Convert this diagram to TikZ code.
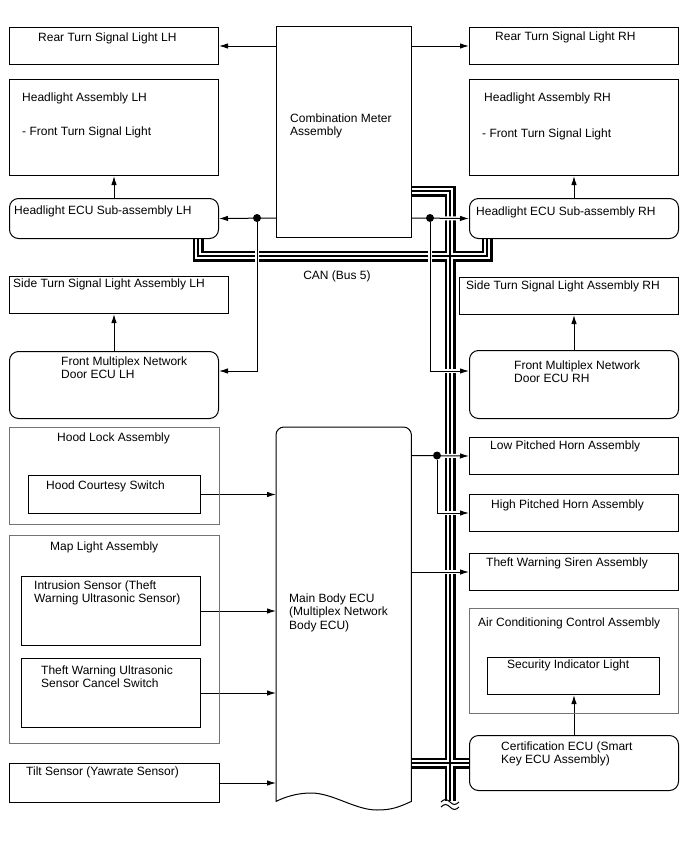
\documentclass[tikz,border=0pt]{standalone}
\usepackage{fontspec}
\setmainfont{Liberation Sans}
\usetikzlibrary{arrows.meta}
\pgfdeclarelayer{wires}
\pgfsetlayers{wires,main}
\tikzset{
  unit/.style={draw, fill=white, line width=1pt, inner sep=0, anchor=north west},
  ecu/.style={unit, rounded corners=9pt},
  assy/.style={draw=black!55, line width=0.9pt, inner sep=0, anchor=north west},
  lbl/.style={inner sep=0, anchor=north west, align=left, font=\fontsize{12}{13.5}\selectfont},
  sig/.style={line width=1pt, -{Latex[length=9pt,width=5.5pt]}, preaction={draw=white, line width=4pt, -}},
  tap/.style={circle, fill, inner sep=0, minimum size=8pt},
}
\begin{document}
\begin{tikzpicture}[x=1pt, y=-1pt]
  \useasboundingbox (0,0) rectangle (688,852);
  \node[unit, minimum width=209pt, minimum height=37pt] (rearL) at (9,27) {};
  \node[unit, minimum width=209pt, minimum height=37pt] (rearR) at (469,27) {};
  \node[unit, minimum width=135pt, minimum height=211pt] (cma) at (276,26) {};
  \node[unit, minimum width=209pt, minimum height=96pt] (haL) at (9,79) {};
  \node[unit, minimum width=209pt, minimum height=96pt] (haR) at (469,79) {};
  \node[ecu, minimum width=209pt, minimum height=40pt] (hecuL) at (9,198) {};
  \node[ecu, minimum width=209pt, minimum height=40pt] (hecuR) at (469,198) {};
  \node[unit, minimum width=219pt, minimum height=37pt] (stL) at (9,276) {};
  \node[unit, minimum width=219pt, minimum height=37pt] (stR) at (459,277) {};
  \node[ecu, minimum width=209pt, minimum height=67pt] (fmL) at (9,351) {};
  \node[ecu, minimum width=209pt, minimum height=68pt] (fmR) at (469,350) {};
  \node[assy, minimum width=210pt, minimum height=97pt] (hood) at (9,427) {};
  \node[unit, minimum width=172pt, minimum height=38pt] (hcs) at (28,475) {};
  \node[unit, minimum width=209pt, minimum height=37pt] (low) at (469,437) {};
  \node[unit, minimum width=209pt, minimum height=37pt] (high) at (469,494) {};
  \node[unit, minimum width=209pt, minimum height=37pt] (siren) at (469,553) {};
  \node[assy, minimum width=210pt, minimum height=208pt] (map) at (9,535) {};
  \node[unit, minimum width=179pt, minimum height=69pt] (ins) at (21,576) {};
  \node[unit, minimum width=179pt, minimum height=69pt] (cnl) at (21,658) {};
  \node[unit, minimum width=210pt, minimum height=39pt] (tilt) at (9,763) {};
  \node[assy, minimum width=209pt, minimum height=105pt] (ac) at (469,608) {};
  \node[unit, minimum width=172pt, minimum height=37pt] (sil) at (487,657) {};
  \node[ecu, minimum width=209pt, minimum height=55pt] (cert) at (469,735) {};
  \node[inner sep=0, anchor=north west, minimum width=135pt, minimum height=374pt] (mbe) at (276,427) {};
  \filldraw[fill=white, line width=1pt] (mbe.south west) -- ([yshift=-8pt]mbe.north west)
    arc[start angle=180, end angle=90, radius=8pt] -- ([xshift=-8pt]mbe.north east)
    arc[start angle=90, end angle=0, radius=8pt] -- (mbe.south east)
    .. controls (399,807) and (392,810) .. (377,810)
    .. controls (355,810) and (333,793) .. (311,793)
    .. controls (297,793) and (285,797) .. cycle;
  \node[lbl] (rearL-t) at (38,32.5) {Rear Turn Signal Light LH};
  \node[lbl] (rearR-t) at (495,31.5) {Rear Turn Signal Light RH};
  \node[lbl] (cma-t) at (290,113.5) {Combination Meter\\Assembly};
  \node[lbl] (haL-t) at (22,92.5) {Headlight Assembly LH};
  \node[lbl] (haL-s) at (22,126.5) {- Front Turn Signal Light};
  \node[lbl] (haR-t) at (484,92.5) {Headlight Assembly RH};
  \node[lbl] (haR-s) at (482,128.5) {- Front Turn Signal Light};
  \node[lbl] (hecuL-t) at (14,205.5) {Headlight ECU Sub-assembly LH};
  \node[lbl] (hecuR-t) at (476,206.5) {Headlight ECU Sub-assembly RH};
  \node[lbl, anchor=center] (can-t) at (337,276) {CAN (Bus 5)};
  \node[lbl] (stL-t) at (13,278.5) {Side Turn Signal Light Assembly LH};
  \node[lbl] (stR-t) at (466,280.5) {Side Turn Signal Light Assembly RH};
  \node[lbl] (fmL-t) at (61,356.5) {Front Multiplex Network\\Door ECU LH};
  \node[lbl] (fmR-t) at (514,360.5) {Front Multiplex Network\\Door ECU RH};
  \node[lbl] (hood-t) at (57,432.5) {Hood Lock Assembly};
  \node[lbl] (hcs-t) at (46,480.5) {Hood Courtesy Switch};
  \node[lbl] (low-t) at (490,440.5) {Low Pitched Horn Assembly};
  \node[lbl] (high-t) at (491,499.5) {High Pitched Horn Assembly};
  \node[lbl] (siren-t) at (486,557.5) {Theft Warning Siren Assembly};
  \node[lbl] (map-t) at (50,541.5) {Map Light Assembly};
  \node[lbl] (ins-t) at (34,580.5) {Intrusion Sensor (Theft\\Warning Ultrasonic Sensor)};
  \node[lbl] (mbe-t) at (289,593.5) {Main Body ECU\\(Multiplex Network\\Body ECU)};
  \node[lbl] (ac-t) at (478,617.5) {Air Conditioning Control Assembly};
  \node[lbl] (sil-t) at (507,659.5) {Security Indicator Light};
  \node[lbl] (cnl-t) at (41,665.5) {Theft Warning Ultrasonic\\Sensor Cancel Switch};
  \node[lbl] (cert-t) at (501,741.5) {Certification ECU (Smart\\Key ECU Assembly)};
  \node[lbl] (tilt-t) at (26,766.5) {Tilt Sensor (Yawrate Sensor)};
  \node[tap] (d1) at (257,218) {};
  \node[tap] (d2) at (430,218) {};
  \node[tap] (d3) at (437,455.5) {};
  \coordinate (busT) at (450,191);
  \coordinate (busB) at (450,801);
  \coordinate (canL) at (198,256);
  \coordinate (canR) at (487,256);
  \begin{pgfonlayer}{wires}
    \foreach \w/\c in {11pt/black, 6pt/white, 1.4pt/black} {
      \draw[line width=\w, draw=\c] (busT -| cma.east) -- (busT) -- (busB);
      \draw[line width=\w, draw=\c] (canL |- hecuL.south) -- (canL) -- (canR) -- (canR |- hecuR.south);
      \draw[line width=\w, draw=\c] (cert.west -| mbe.east) -- (cert.west);
    }
    \draw[line width=1pt] (441,802) sin (445.5,799.5) cos (450,802) sin (454.5,804.5) cos (459,802);
    \draw[line width=1pt] (441,807) sin (445.5,804.5) cos (450,807) sin (454.5,809.5) cos (459,807);
    \draw[sig] (cma.west |- rearL.east) -- (rearL.east);
    \draw[sig] (cma.east |- rearR.west) -- (rearR.west);
    \draw[sig] (hecuL) -- (haL);
    \draw[sig] (hecuR) -- (haR);
    \draw[sig] (d1 -| cma.west) -- (hecuL.east);
    \draw[sig] (d2 -| cma.east) -- (hecuR.west);
    \draw[sig] (d1) -- (d1 |- 0,371) -- (fmL.east |- 0,371);
    \draw[sig] (d2) -- (d2 |- 0,371) -- (fmR.west |- 0,371);
    \draw[sig] (fmL.north) -- (fmL.north |- stL.south);
    \draw[sig] (fmR.north) -- (fmR.north |- stR.south);
    \draw[sig] (d3 -| mbe.east) -- (low.west);
    \draw[sig] (d3) -- (d3 |- high.west) -- (high.west);
    \draw[sig] (siren.west -| mbe.east) -- (siren.west);
    \draw[sig] (hcs.east) -- (hcs.east -| mbe.west);
    \draw[sig] (ins.east) -- (ins.east -| mbe.west);
    \draw[sig] (cnl.east) -- (cnl.east -| mbe.west);
    \draw[sig] (tilt.east) -- (tilt.east -| mbe.west);
    \draw[sig] (cert.north) -- (cert.north |- sil.south);
  \end{pgfonlayer}
\end{tikzpicture}
\end{document}
